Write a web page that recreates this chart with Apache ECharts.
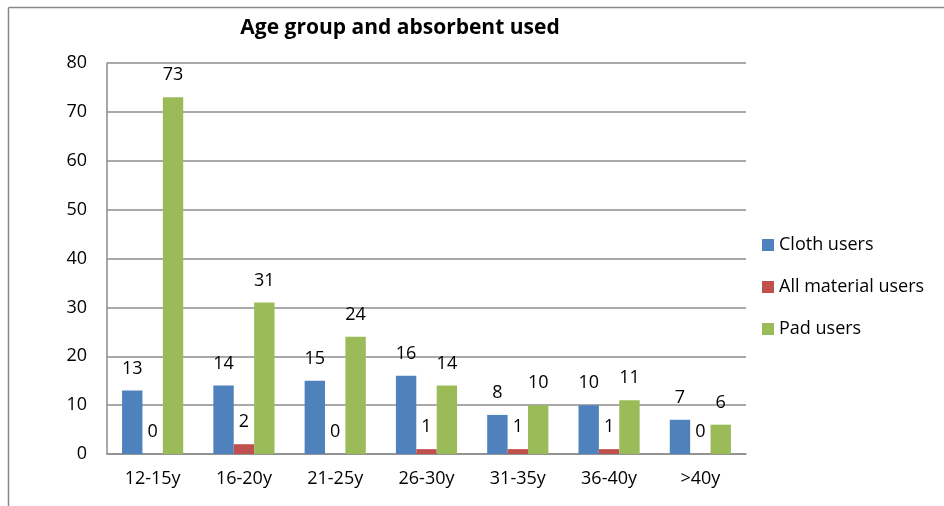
<!DOCTYPE html>
<html>
<head>
<meta charset="utf-8">
<script src="https://cdn.jsdelivr.net/npm/echarts@6/dist/echarts.min.js"></script>
<style>
  html, body { margin: 0; padding: 0; background: #fff; }
  #chart { width: 944px; height: 506px; }
</style>
</head>
<body>
<div id="chart"></div>
<script>
var ageGroups = ['12-15y', '16-20y', '21-25y', '26-30y', '31-35y', '36-40y', '>40y']
var clothUsers = [13, 14, 15, 16, 8, 10, 7]
var allMaterialUsers = [0, 2, 0, 1, 1, 1, 0]
var padUsers = [73, 31, 24, 14, 10, 11, 6]

var font = '"Open Sans", "Noto Sans", sans-serif'

function barSeries(name, data, color) {
  return {
    name: name,
    type: 'bar',
    data: data,
    barGap: '0%',
    barCategoryGap: '33%',
    itemStyle: { color: color },
    label: {
      show: true,
      position: 'top',
      distance: 13,
      color: '#000',
      fontSize: 18,
      fontFamily: font
    }
  }
}

var chart = echarts.init(document.getElementById('chart'))
chart.setOption({
  animation: false,
  title: {
    text: 'Age group and absorbent used',
    left: 395,
    textAlign: 'center',
    top: 13,
    textStyle: { fontSize: 21, fontWeight: 'bold', color: '#000', fontFamily: font }
  },
  // frame of the document figure
  graphic: [
    { type: 'line', shape: { x1: 8.5, y1: 7.5, x2: 944, y2: 7.5 }, style: { stroke: '#888', lineWidth: 1.5 } },
    { type: 'line', shape: { x1: 8.5, y1: 7.5, x2: 8.5, y2: 506 }, style: { stroke: '#888', lineWidth: 1.5 } }
  ],
  legend: {
    orient: 'vertical',
    left: 762,
    top: 235,
    padding: 0,
    itemWidth: 12,
    itemHeight: 12,
    itemGap: 22,
    icon: 'rect',
    textStyle: { fontSize: 18, lineHeight: 20, color: '#000', fontFamily: font }
  },
  grid: { left: 107, right: 198, top: 63, bottom: 52 },
  xAxis: {
    type: 'category',
    data: ageGroups,
    axisLine: { lineStyle: { color: '#8c8c8c', width: 1.5 } },
    axisTick: { show: false },
    axisLabel: { fontSize: 18, color: '#000', margin: 16, fontFamily: font }
  },
  yAxis: {
    type: 'value',
    min: 0,
    max: 80,
    interval: 10,
    axisLine: { show: true, lineStyle: { color: '#8c8c8c', width: 1.5 } },
    axisTick: { show: false },
    splitLine: { lineStyle: { color: '#8c8c8c', width: 1.5 } },
    axisLabel: { fontSize: 18, color: '#000', margin: 20, fontFamily: font }
  },
  series: [
    barSeries('Cloth users', clothUsers, '#4F81BD'),
    barSeries('All material users', allMaterialUsers, '#C0504D'),
    barSeries('Pad users', padUsers, '#9BBB59')
  ]
})
</script>
</body>
</html>
